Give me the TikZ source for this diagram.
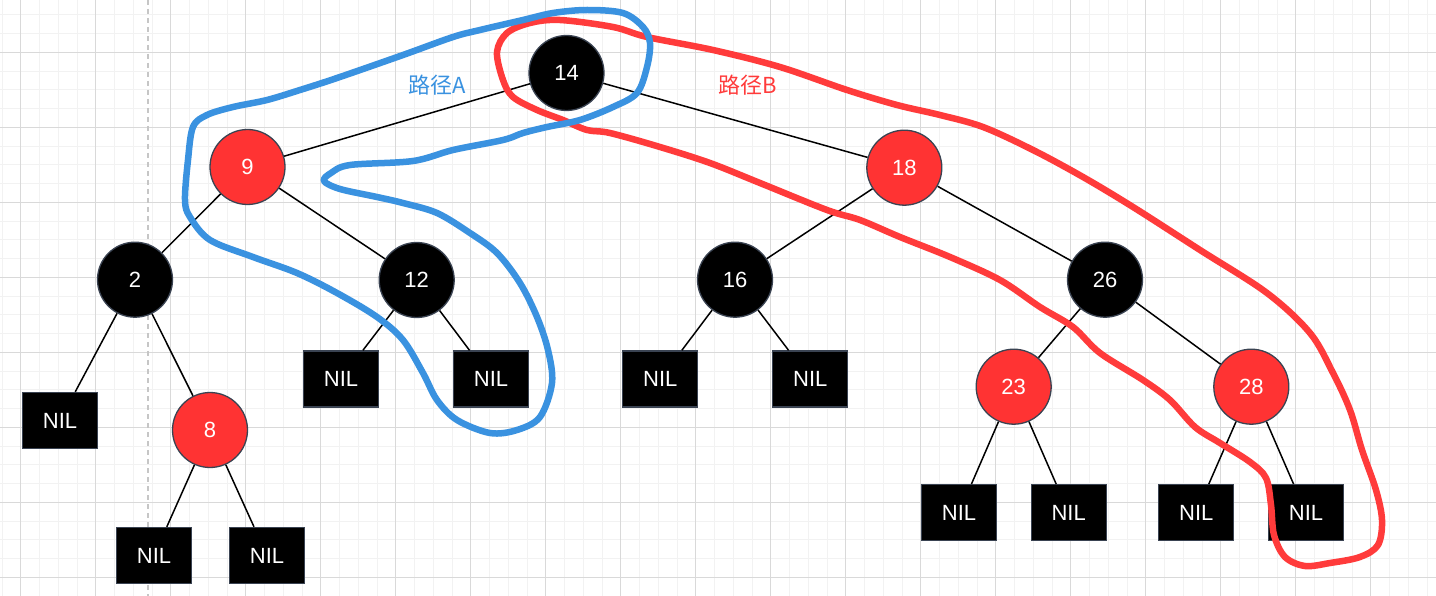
\documentclass[tikz,border=0pt]{standalone}
\usepackage{fontspec}
\setmainfont{Liberation Sans}
\newfontfamily\cjk{Noto Sans CJK SC}
\definecolor{nodered}{HTML}{FF3333}
\definecolor{nodeborder}{HTML}{3A4352}
\definecolor{pathblue}{HTML}{3A92E0}
\definecolor{pathred}{HTML}{FF3B3B}
\definecolor{gridminor}{HTML}{F2F2F2}
\definecolor{gridmajor}{HTML}{D9D9D9}
\tikzset{
  rbnode/.style={circle, minimum size=75pt, inner sep=0pt, draw=nodeborder, line width=1.3pt, text=white, font=\fontsize{22}{25}\selectfont},
  blk/.style={rbnode, fill=black},
  rd/.style={rbnode, fill=nodered},
  nil/.style={rectangle, minimum width=75pt, minimum height=56pt, inner sep=0pt, fill=black, draw=nodeborder, line width=1.3pt, text=white, font=\fontsize{22}{25}\selectfont},
  edge/.style={black, line width=1.5pt},
  loopline/.style={line width=6.5pt, line cap=round, line join=round},
  lbl/.style={font=\cjk\fontsize{22}{25}\selectfont, inner sep=0pt}
}
\begin{document}
\begin{tikzpicture}[x=1pt,y=-1pt]
\useasboundingbox (0,0) rectangle (1436,596);
\fill[white] (0,0) rectangle (1436,596);
\begin{scope}
\clip (0,0) rectangle (1436,596);
\foreach \i in {0,...,77} {\draw[gridminor, line width=0.8pt] ({1.95+\i*18.75},0) -- ({1.95+\i*18.75},596);}
\foreach \j in {0,...,32} {\draw[gridminor, line width=0.8pt] (0,{14.8+\j*18.75}) -- (1436,{14.8+\j*18.75});}
\foreach \i in {0,...,19} {\draw[gridmajor, line width=0.8pt] ({20.7+\i*75},0) -- ({20.7+\i*75},596);}
\foreach \j in {-1,...,7} {\draw[gridmajor, line width=0.8pt] (0,{52.3+\j*75}) -- (1436,{52.3+\j*75});}
\end{scope}
\draw[gray!45, line width=1.5pt, dash pattern=on 5pt off 4pt] (148,0) -- (148,596);

% nodes
\node[blk] (n14) at (566.5,73) {14};
\node[rd]  (n9)  at (247.5,167) {9};
\node[rd]  (n18) at (904.3,167.7) {18};
\node[blk] (n2)  at (135,279.7) {2};
\node[blk] (n12) at (416.7,280) {12};
\node[blk] (n16) at (735,279.7) {16};
\node[blk] (n26) at (1105,279.7) {26};
\node[rd]  (n8)  at (210,430) {8};
\node[rd]  (n23) at (1013.7,386.7) {23};
\node[rd]  (n28) at (1251.3,386.7) {28};
\node[nil] (l2)   at (60,420.5) {NIL};
\node[nil] (l8a)  at (154,555.5) {NIL};
\node[nil] (l8b)  at (267,555.5) {NIL};
\node[nil] (l12a) at (341,379) {NIL};
\node[nil] (l12b) at (491,379) {NIL};
\node[nil] (l16a) at (660.3,379) {NIL};
\node[nil] (l16b) at (810.3,379) {NIL};
\node[nil] (l23a) at (959,512.7) {NIL};
\node[nil] (l23b) at (1068.7,512.7) {NIL};
\node[nil] (l28a) at (1196.3,512.7) {NIL};
\node[nil] (l28b) at (1306,512.7) {NIL};

% edges
\draw[edge] (n14) -- (n9);
\draw[edge] (n14) -- (n18);
\draw[edge] (n9) -- (n2);
\draw[edge] (n9) -- (n12);
\draw[edge] (n2) -- (l2);
\draw[edge] (n2) -- (n8);
\draw[edge] (n8) -- (l8a);
\draw[edge] (n8) -- (l8b);
\draw[edge] (n12) -- (l12a);
\draw[edge] (n12) -- (l12b);
\draw[edge] (n18) -- (n16);
\draw[edge] (n18) -- (n26);
\draw[edge] (n16) -- (l16a);
\draw[edge] (n16) -- (l16b);
\draw[edge] (n26) -- (n23);
\draw[edge] (n26) -- (n28);
\draw[edge] (n23) -- (l23a);
\draw[edge] (n23) -- (l23b);
\draw[edge] (n28) -- (l28a);
\draw[edge] (n28) -- (l28b);

% labels
\node[lbl, text=pathblue] (la) at (437,85) {路径A};
\node[lbl, text=pathred] (lb) at (748,85) {路径B};

% path B (red)
\draw[loopline, pathred] plot[smooth cycle, tension=0.55] coordinates {
 (560,20) (613,27) (647,37) (713,50) (780,67) (847,90) (897,105) (940,115) (983,127)
 (1033,150) (1083,177) (1133,207) (1200,250) (1267,293) (1310,333) (1333,373)
 (1350,410) (1362,450) (1376,490) (1382,520) (1378,545) (1360,557) (1330,563) (1305,566)
 (1285,557) (1274,535) (1271,505) (1266,478) (1250,462) (1220,443) (1195,427)
 (1170,400) (1143,380) (1100,353) (1073,327) (1040,307) (1000,280) (950,257) (900,237)
 (860,220) (827,210) (760,183) (710,163) (660,147) (610,133) (587,130) (563,120)
 (537,110) (513,97) (503,80) (497,52) (507,33) (530,23)
};
% path A (blue)
\draw[loopline, pathblue] plot[smooth cycle, tension=0.55] coordinates {
 (523,133) (547,127) (580,120) (613,107) (637,93) (647,67) (650,43) (643,27) (623,13)
 (587,10) (553,13) (523,20) (480,30) (453,37) (403,55) (337,78) (300,90) (267,100)
 (233,107) (207,115) (193,127) (188,160) (185,200) (190,217) (210,240) (253,257)
 (297,273) (337,293) (377,317) (403,340) (423,373) (437,400) (457,420) (490,433)
 (517,430) (540,417) (552,383) (548,350) (537,317) (520,283) (497,253) (470,233)
 (437,213) (403,203) (377,197) (340,189) (324,181) (331,173) (350,165) (413,161)
 (453,150) (503,140)
};
\end{tikzpicture}
\end{document}
